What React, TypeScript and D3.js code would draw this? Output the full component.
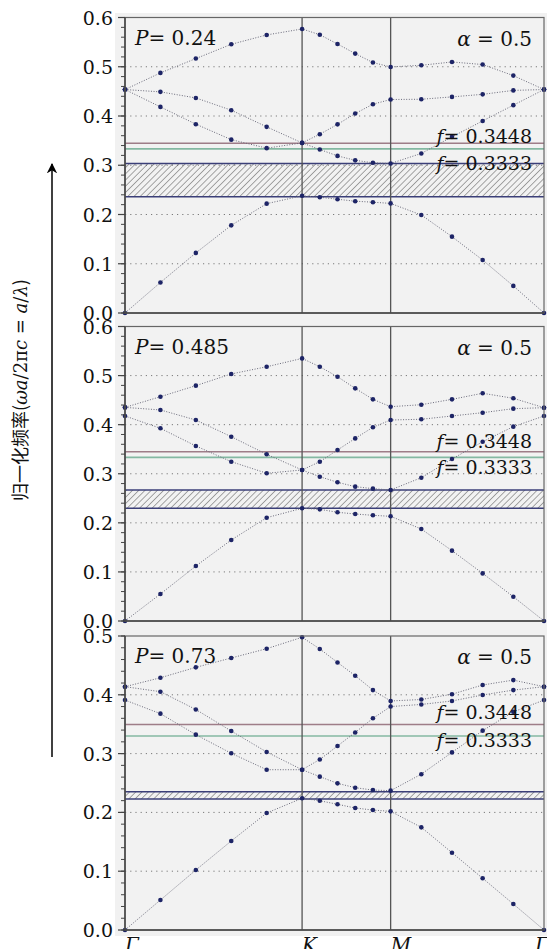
import React from "react";
import * as d3 from "d3";

// high-symmetry path Γ-K-M-Γ, 5 steps on each segment
const kLabels = ["Γ", "K", "M", "Γ"];
const segLengths = [4 / 3, 2 / 3, 2 / Math.sqrt(3)];
const stepsPerSeg = 5;

const pLabels = ["0.24", "0.485", "0.73"];
const alphaText = "0.5";
const yTops = [0.6, 0.6, 0.5];
const fValues = ["0.3448", "0.3333"];
// where the two reference lines sit in each panel
const fLines = [
  [0.3448, 0.3333],
  [0.3448, 0.3333],
  [0.3495, 0.33],
];
const fLabelAt = [
  [0.36, 0.304],
  [0.367, 0.314],
  [0.371, 0.323],
];
const gaps = [
  [0.236, 0.3036],
  [0.2296, 0.267],
  [0.2228, 0.235],
];

const bandsP1 = [
  [0, 0.062, 0.122, 0.178, 0.222, 0.238, 0.235, 0.231, 0.227, 0.225, 0.2225, 0.199, 0.155, 0.1075, 0.055, 0],
  [0.4537, 0.4185, 0.3834, 0.352, 0.3347, 0.3454, 0.332, 0.319, 0.31, 0.305, 0.3036, 0.324, 0.3577, 0.39, 0.422, 0.4537],
  [0.4537, 0.449, 0.4367, 0.4118, 0.378, 0.3454, 0.363, 0.383, 0.405, 0.424, 0.4335, 0.434, 0.4388, 0.444, 0.452, 0.4537],
  [0.4537, 0.4875, 0.5166, 0.5456, 0.5646, 0.5767, 0.565, 0.5462, 0.5267, 0.5085, 0.4996, 0.503, 0.5097, 0.5045, 0.482, 0.4537],
];
const bandsP2 = [
  [0, 0.055, 0.112, 0.165, 0.2105, 0.2296, 0.2275, 0.2215, 0.218, 0.2153, 0.2133, 0.1874, 0.1433, 0.097, 0.0495, 0],
  [0.4177, 0.3926, 0.3566, 0.3246, 0.301, 0.3077, 0.294, 0.2826, 0.2737, 0.2696, 0.267, 0.292, 0.33, 0.3653, 0.396, 0.4177],
  [0.4352, 0.43, 0.4095, 0.3755, 0.3396, 0.3077, 0.3246, 0.3484, 0.372, 0.3947, 0.4095, 0.411, 0.4177, 0.4244, 0.4326, 0.4346],
  [0.4352, 0.457, 0.4795, 0.5033, 0.518, 0.535, 0.518, 0.4977, 0.474, 0.4516, 0.4366, 0.4407, 0.4516, 0.464, 0.4537, 0.4346],
];
const bandsP3 = [
  [0, 0.051, 0.102, 0.1514, 0.199, 0.224, 0.2198, 0.2138, 0.2075, 0.204, 0.2018, 0.1746, 0.1315, 0.0879, 0.0442, 0],
  [0.391, 0.3679, 0.3322, 0.3005, 0.2726, 0.2726, 0.2608, 0.2494, 0.242, 0.238, 0.237, 0.265, 0.302, 0.339, 0.371, 0.391],
  [0.4138, 0.4053, 0.375, 0.3384, 0.3027, 0.2726, 0.29, 0.313, 0.336, 0.36, 0.38, 0.3836, 0.3895, 0.3997, 0.408, 0.4138],
  [0.4138, 0.429, 0.4467, 0.4626, 0.4784, 0.4978, 0.478, 0.455, 0.4325, 0.408, 0.3895, 0.392, 0.401, 0.4167, 0.425, 0.4138],
];
const panelBands = [bandsP1, bandsP2, bandsP3];

const W = 547, H = 949;
const plotLeft = 125, plotRight = 544;
const panelTops = [17.5, 326.5, 636];
const panelBottoms = [313, 621, 930];
const serif = { fontFamily: '"DejaVu Serif", "Liberation Serif", "Noto Serif", serif' };

const nodePos = [0, ...d3.cumsum(segLengths)];
const kPoints: number[] = [];
segLengths.forEach((len, s) => {
  for (let i = 0; i < stepsPerSeg; i++) kPoints.push(nodePos[s] + (len * i) / stepsPerSeg);
});
kPoints.push(nodePos[3]);

const x = d3.scaleLinear().domain([0, nodePos[3]]).range([plotLeft, plotRight]);

function Panel({ idx }: { idx: number }) {
  const top = panelTops[idx], bottom = panelBottoms[idx];
  const y = d3.scaleLinear().domain([0, yTops[idx]]).range([bottom, top]);
  const majors = d3.range(0, yTops[idx] + 1e-9, 0.1);
  const minors = d3.range(0, yTops[idx] + 1e-9, 0.02);
  const line = d3.line<number>().x((_, i) => x(kPoints[i])).y((d) => y(d));
  const [g0, g1] = gaps[idx];
  return (
    <g>
      <rect x={plotLeft} y={top} width={plotRight - plotLeft} height={bottom - top} fill="#f2f2f2" />
      {majors.slice(1, -1).map((v, i) => (
        <line key={"g" + i} x1={plotLeft} x2={plotRight} y1={y(v)} y2={y(v)} stroke="#7a7a7a" strokeWidth={1} strokeDasharray="1.2,4" />
      ))}
      {/* band gap */}
      <rect x={plotLeft} y={y(g1)} width={plotRight - plotLeft} height={y(g0) - y(g1)} fill="url(#hatch)" />
      <line x1={plotLeft} x2={plotRight} y1={y(g1)} y2={y(g1)} stroke="#3b3f78" strokeWidth={1.4} />
      <line x1={plotLeft} x2={plotRight} y1={y(g0)} y2={y(g0)} stroke="#3b3f78" strokeWidth={1.4} />
      <line x1={plotLeft} x2={plotRight} y1={y(fLines[idx][0])} y2={y(fLines[idx][0])} stroke="#9e7d88" strokeWidth={1.6} />
      <line x1={plotLeft} x2={plotRight} y1={y(fLines[idx][1])} y2={y(fLines[idx][1])} stroke="#84b8a2" strokeWidth={1.6} />
      {nodePos.slice(1, 3).map((k, i) => (
        <line key={"v" + i} x1={x(k)} x2={x(k)} y1={top} y2={bottom} stroke="#555" strokeWidth={1.3} />
      ))}
      {panelBands[idx].map((b, i) => (
        <path key={"b" + i} d={line(b) || ""} fill="none" stroke="#6a6a7a" strokeWidth={1} strokeDasharray="1,1.6" />
      ))}
      {panelBands[idx].map((b, i) =>
        b.map((v, j) => <circle key={"d" + i + "-" + j} cx={x(kPoints[j])} cy={y(v)} r={2.3} fill="#1d2466" />)
      )}
      <rect x={plotLeft} y={top} width={plotRight - plotLeft} height={bottom - top} fill="none" stroke="#666" strokeWidth={1.2} />
      <line x1={plotLeft} x2={plotLeft} y1={top} y2={bottom} stroke="#444" strokeWidth={1.5} />
      <line x1={plotLeft} x2={plotRight} y1={bottom} y2={bottom} stroke="#444" strokeWidth={1.5} />
      {minors.map((v, i) => (
        <line key={"m" + i} x1={plotLeft - 4} x2={plotLeft} y1={y(v)} y2={y(v)} stroke="#444" strokeWidth={1} />
      ))}
      {majors.map((v, i) => (
        <g key={"t" + i}>
          <line x1={plotLeft - 7} x2={plotLeft} y1={y(v)} y2={y(v)} stroke="#444" strokeWidth={1.2} />
          <text x={113} y={y(v) + 7} textAnchor="end" fontSize={19} style={serif} fill="#111">
            {d3.format(".1f")(v)}
          </text>
        </g>
      ))}
      <text x={135} y={top + 27} fontSize={20} style={serif} fill="#111">
        <tspan fontStyle="italic">P</tspan>= {pLabels[idx]}
      </text>
      <text x={532} y={top + 28} textAnchor="end" fontSize={20} style={serif} fill="#111">
        <tspan fontStyle="italic">α</tspan> = {alphaText}
      </text>
      {fValues.map((f, i) => (
        <text key={"f" + i} x={532} y={y(fLabelAt[idx][i]) + 7} textAnchor="end" fontSize={19} style={serif} fill="#111">
          <tspan fontStyle="italic">f</tspan>= {f}
        </text>
      ))}
    </g>
  );
}

export default function App() {
  return (
    <div style={{ position: "absolute", left: 0, top: 0 }}>
      <svg width={W} height={H} style={{ display: "block", background: "#fff" }}>
        <defs>
          <pattern id="hatch" width={4.4} height={10} patternUnits="userSpaceOnUse" patternTransform="rotate(45)">
            <line x1={0} y1={0} x2={0} y2={10} stroke="#555" strokeWidth={1} />
          </pattern>
          <marker id="arrow" viewBox="0 0 10 10" refX={9} refY={5} markerWidth={7} markerHeight={7} orient="auto">
            <path d="M0,0 L10,5 L0,10 L3,5 Z" fill="#000" />
          </marker>
        </defs>
        <rect x={115} y={13} width={W - 115} height={923} fill="#f1f1f1" />
        {[0, 1, 2].map((i) => (
          <Panel key={i} idx={i} />
        ))}
        {nodePos.map((k, i) => (
          <text key={"k" + i} x={i === 3 ? x(k) - 9 : x(k)} y={952} fontSize={20} fontStyle="italic" style={serif} fill="#111">
            {kLabels[i]}
          </text>
        ))}
        <line x1={52} x2={52} y1={757} y2={164} stroke="#000" strokeWidth={1.5} markerEnd="url(#arrow)" />
        <text
          transform="translate(27,390) rotate(-90)"
          textAnchor="middle"
          fontSize={18}
          style={{ fontFamily: '"Noto Sans CJK SC", sans-serif' }}
          fill="#111"
        >
          归一化频率(<tspan fontStyle="italic" style={serif}>ωa</tspan>
          <tspan style={serif}>/2π</tspan>
          <tspan fontStyle="italic" style={serif}>c</tspan>
          <tspan style={serif}> = </tspan>
          <tspan fontStyle="italic" style={serif}>a</tspan>
          <tspan style={serif}>/</tspan>
          <tspan fontStyle="italic" style={serif}>λ</tspan>)
        </text>
      </svg>
    </div>
  );
}
